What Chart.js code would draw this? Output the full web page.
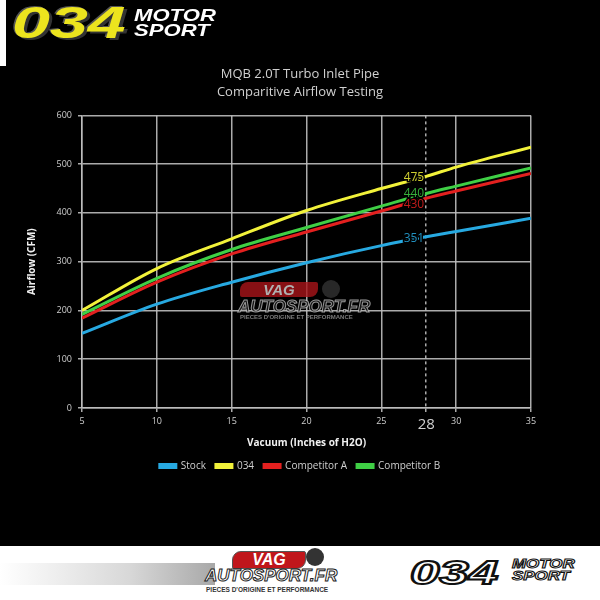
<!DOCTYPE html>
<html>
<head>
<meta charset="utf-8">
<script src="https://cdn.jsdelivr.net/npm/chart.js@4.4.1/dist/chart.umd.min.js"></script>
<style>
  html, body { margin: 0; padding: 0; width: 600px; height: 600px; background: #fff; overflow: hidden; }
  #stage { position: absolute; left: 0; top: 0; width: 600px; height: 546px; background: #000; }
  #chart { position: absolute; left: 0; top: 0; }
  .logo034 { position: absolute; font-family: "Liberation Sans", "DejaVu Sans", sans-serif; font-weight: bold; font-style: italic; white-space: nowrap; }
  #topstrip { position: absolute; left: 0; top: 0; width: 6px; height: 66px; background: #fff; }
  #topnum { left: 12px; top: -2px; font-size: 44px; color: #ece41e; letter-spacing: 0px;
            text-shadow: 2px 2px 0 #333, -1px -1px 0 #555; transform: scaleX(1.55); transform-origin: left top; }
  #topword { left: 134px; top: 8px; font-size: 17px; line-height: 15px; color: #fff; letter-spacing: 0px;
             transform: scaleX(1.3); transform-origin: left top; }
  #wm { position: absolute; left: 238px; top: 282px; width: 136px; height: 40px; opacity: 0.8; pointer-events: none; }
  .vag { position: absolute; font-family: "Liberation Sans", sans-serif; font-weight: bold; font-style: italic; white-space: nowrap; }
  #footer { position: absolute; left: 0; top: 546px; width: 600px; height: 54px; background: #fff; }
  #bar { position: absolute; left: 0; top: 17px; width: 215px; height: 22px; background: linear-gradient(to right, #ffffff, #d8d8d8 60%, #a8a8a8); }
</style>
</head>
<body>
<div id="stage">
  <canvas id="chart" width="600" height="546"></canvas>
  <div id="topstrip"></div>
  <div class="logo034" id="topnum">034</div>
  <div class="logo034" id="topword">MOTOR<br>SPORT</div>
  <div id="wm">
    <div class="vag" style="left:2px;top:0;width:78px;height:15px;background:#a9151a;border-radius:8px 2px 8px 2px;color:#ddd;font-size:15px;line-height:15px;text-align:center;">VAG</div>
    <div class="vag" style="left:84px;top:-2px;width:18px;height:18px;border-radius:9px;background:#333;"></div>
    <div class="vag" style="left:0;top:15px;font-size:17px;color:#1a1a1a;-webkit-text-stroke:1px #bdbdbd;">AUTOSPORT.FR</div>
    <div class="vag" style="left:2px;top:32px;font-size:6px;color:#999;font-style:normal;">PIECES D'ORIGINE ET PERFORMANCE</div>
  </div>
</div>
<div id="footer">
  <div id="bar"></div>
  <div class="vag" style="left:232px;top:5px;width:72px;height:16px;background:#c0161b;border-radius:9px 2px 9px 2px;color:#fff;font-size:16px;line-height:16px;text-align:center;border:1px solid #555;">VAG</div>
  <div class="vag" style="left:306px;top:2px;width:18px;height:18px;border-radius:9px;background:#333;"></div>
  <div class="vag" style="left:205px;top:20px;font-size:17px;color:#fff;-webkit-text-stroke:1px #222;">AUTOSPORT.FR</div>
  <div class="vag" style="left:206px;top:40px;font-size:6.5px;color:#333;font-style:normal;">PIECES D'ORIGINE ET PERFORMANCE</div>
  <div class="logo034" style="left:410px;top:8px;font-size:33px;color:#fff;-webkit-text-stroke:2px #111;transform:scaleX(1.6);transform-origin:left top;">034</div>
  <div class="logo034" style="left:512px;top:12px;font-size:13px;line-height:12px;color:#fff;-webkit-text-stroke:1px #111;transform:scaleX(1.3);transform-origin:left top;">MOTOR<br>SPORT</div>
</div>
<script>
// ---- data ----
const vacuum      = [5, 10, 15, 20, 25, 28, 30, 35];
const stock       = [153, 213, 258, 298, 333, 351, 362, 389];
const ours034     = [200, 286, 347, 405, 450, 475, 494, 535];
const competitorA = [184, 258, 316, 361, 404, 430, 445, 481];
const competitorB = [192, 266, 325, 370, 414, 440, 455, 492];
const seriesNames = ['Stock', '034', 'Competitor A', 'Competitor B'];
const xTicks      = [5, 10, 15, 20, 25, 28, 30, 35];
const markX       = 28;
const titleLines  = ['MQB 2.0T Turbo Inlet Pipe', 'Comparitive Airflow Testing'];

const colors = ['#27a9e1', '#f2f23a', '#e3201f', '#3fcf45'];
const values = [stock, ours034, competitorA, competitorB];

const toPts = arr => vacuum.map((x, i) => ({ x: x, y: arr[i] }));

const datasets = seriesNames.map((name, k) => ({
  label: name,
  data: toPts(values[k]),
  borderColor: colors[k],
  backgroundColor: colors[k],
  borderWidth: 3,
  pointRadius: 0,
  cubicInterpolationMode: 'monotone',
  fill: false
}));

const FONT = '"Open Sans", "DejaVu Sans", sans-serif';

const labelNudge = [2, 1, 6, 0];

const markLabels = {
  id: 'markLabels',
  afterDatasetsDraw(chart) {
    const ctx = chart.ctx;
    const xs = chart.scales.x, ys = chart.scales.y;
    const idx = vacuum.indexOf(markX);
    ctx.save();
    ctx.font = '12px ' + FONT;
    ctx.textAlign = 'right';
    ctx.textBaseline = 'middle';
    chart.data.datasets.forEach((ds, k) => {
      const v = values[k][idx];
      const px = xs.getPixelForValue(markX) - 2;
      const py = ys.getPixelForValue(v) + labelNudge[k];
      ctx.lineWidth = 3;
      ctx.strokeStyle = '#000';
      ctx.strokeText(String(v), px, py);
      ctx.fillStyle = colors[k];
      ctx.globalAlpha = 0.85;
      ctx.fillText(String(v), px, py);
      ctx.globalAlpha = 1;
    });
    ctx.restore();
  }
};

const GRID = 'rgba(190,190,190,0.9)';

new Chart(document.getElementById('chart'), {
  type: 'line',
  data: { datasets: datasets },
  options: {
    responsive: false,
    animation: false,
    layout: { padding: { top: 55, left: 0, right: 0, bottom: 65 } },
    plugins: {
      title: {
        display: true,
        text: titleLines,
        color: '#d0d0d0',
        font: { family: FONT, size: 13, weight: 'normal', lineHeight: 1.4 },
        padding: { top: 10, bottom: 14 }
      },
      legend: {
        position: 'bottom',
        labels: {
          color: '#cfcfcf',
          font: { family: FONT, size: 10 },
          boxWidth: 16,
          boxHeight: 3,
          padding: 10
        }
      },
      tooltip: { enabled: false }
    },
    scales: {
      x: {
        type: 'linear',
        min: 5,
        max: 35,
        afterBuildTicks: s => { s.ticks = xTicks.map(v => ({ value: v })); },
        afterFit: s => { s.height = 43; },
        ticks: {
          color: '#cfcfcf',
          autoSkip: false,
          maxRotation: 0,
          padding: 4,
          font: c => (c.tick && c.tick.value === markX) ? { family: FONT, size: 15 } : { family: FONT, size: 9 },
          callback: v => String(v)
        },
        grid: { color: GRID, lineWidth: 1.5, tickLength: 4 },
        border: { color: GRID, width: 1.5, dash: c => (c.tick && c.tick.value === markX) ? [3, 3] : [] },
        title: {
          display: true,
          text: 'Vacuum (Inches of H2O)',
          color: '#f0f0f0',
          font: { family: FONT, size: 10, weight: 'bold' },
          padding: { top: 0, bottom: 2 }
        }
      },
      y: {
        type: 'linear',
        min: 0,
        max: 600,
        afterFit: s => { s.width = 82; },
        ticks: { stepSize: 100, color: '#cfcfcf', padding: 6, font: { family: FONT, size: 9 } },
        grid: { color: GRID, lineWidth: 1.5, tickLength: 4 },
        border: { color: GRID, width: 1.5 },
        title: {
          display: true,
          text: 'Airflow (CFM)',
          color: '#f0f0f0',
          font: { family: FONT, size: 10, weight: 'bold' },
          padding: { top: 26, bottom: 0 }
        }
      },
      yr: {
        position: 'right',
        display: true,
        afterFit: s => { s.width = 69; },
        ticks: { display: false },
        grid: { display: false, drawOnChartArea: false },
        border: { display: false }
      }
    }
  },
  plugins: [markLabels]
});
</script>
</body>
</html>
